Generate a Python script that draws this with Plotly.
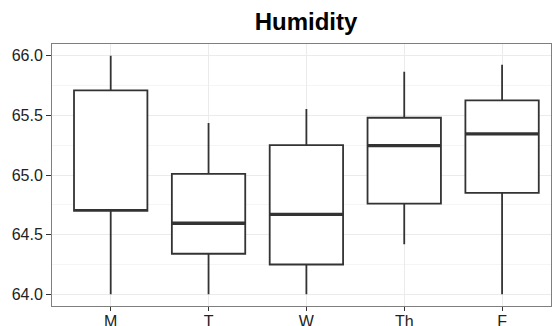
import plotly.graph_objects as go

days = ["M", "T", "W", "Th", "F"]
lower = [64.00, 64.00, 64.00, 64.42, 64.00]
q1 = [64.70, 64.34, 64.25, 64.76, 64.85]
median = [64.70, 64.595, 64.67, 65.246, 65.345]
q3 = [65.71, 65.01, 65.251, 65.48, 65.625]
upper = [66.00, 65.436, 65.553, 65.866, 65.925]
# M's median is not drawn as a bold bar in the reference
bold_median = [None, 64.595, 64.67, 65.246, 65.345]

BOX_W = 0.75
pos = list(range(len(days)))

fig = go.Figure()
fig.add_trace(go.Box(
    x=pos, q1=q1, median=median, q3=q3, lowerfence=lower, upperfence=upper,
    width=BOX_W, fillcolor="white", line=dict(color="#333333", width=1.8),
    whiskerwidth=0, boxpoints=False, hoverinfo="skip", showlegend=False,
))

mx, my = [], []
for p, m in zip(pos, bold_median):
    if m is None:
        continue
    mx += [p - BOX_W / 2, p + BOX_W / 2, None]
    my += [m, m, None]
fig.add_trace(go.Scatter(x=mx, y=my, mode="lines", line=dict(color="#333333", width=3.4),
                         hoverinfo="skip", showlegend=False))

W, H = 552, 326
L, R, T, B = 52, 1, 44, 20
fig.update_layout(
    width=W, height=H,
    margin=dict(l=L, r=R, t=T, b=B, pad=0, autoexpand=False),
    paper_bgcolor="white", plot_bgcolor="white",
    font=dict(family="Liberation Sans, Arial, sans-serif", size=16, color="#222222"),
    title=dict(text="<b>Humidity</b>", font=dict(size=24, color="#000000"),
               x=(306 - L) / (W - L - R), xref="paper", xanchor="center",
               y=1 - 22 / H, yref="container", yanchor="middle"),
)
fig.update_xaxes(
    range=[-0.6, 4.5], tickvals=pos, ticktext=days, automargin=False,
    showgrid=True, gridcolor="#EBEBEB", gridwidth=1, zeroline=False,
    ticks="outside", ticklen=4, tickwidth=1, tickcolor="#333333",
    ticklabelstandoff=-3,
    showline=True, mirror=True, linecolor="#7F7F7F", linewidth=1,
    tickfont=dict(size=16, color="#222222"),
)
fig.update_yaxes(
    range=[63.902, 66.098], tickvals=[64.0, 64.5, 65.0, 65.5, 66.0],
    ticktext=["64.0", "64.5", "65.0", "65.5", "66.0"], automargin=False,
    showgrid=True, gridcolor="#EBEBEB", gridwidth=1, zeroline=False,
    minor=dict(tickvals=[64.25, 64.75, 65.25, 65.75], showgrid=True, gridcolor="#F5F5F5", gridwidth=1, ticks=""),
    ticks="outside", ticklen=5, tickwidth=1, tickcolor="#333333",
    showline=True, mirror=True, linecolor="#7F7F7F", linewidth=1,
    tickfont=dict(size=16, color="#222222"),
)
fig.write_html("out.html", config={"displayModeBar": False},
               post_script="document.body.style.margin='0';document.body.style.overflow='hidden';")
